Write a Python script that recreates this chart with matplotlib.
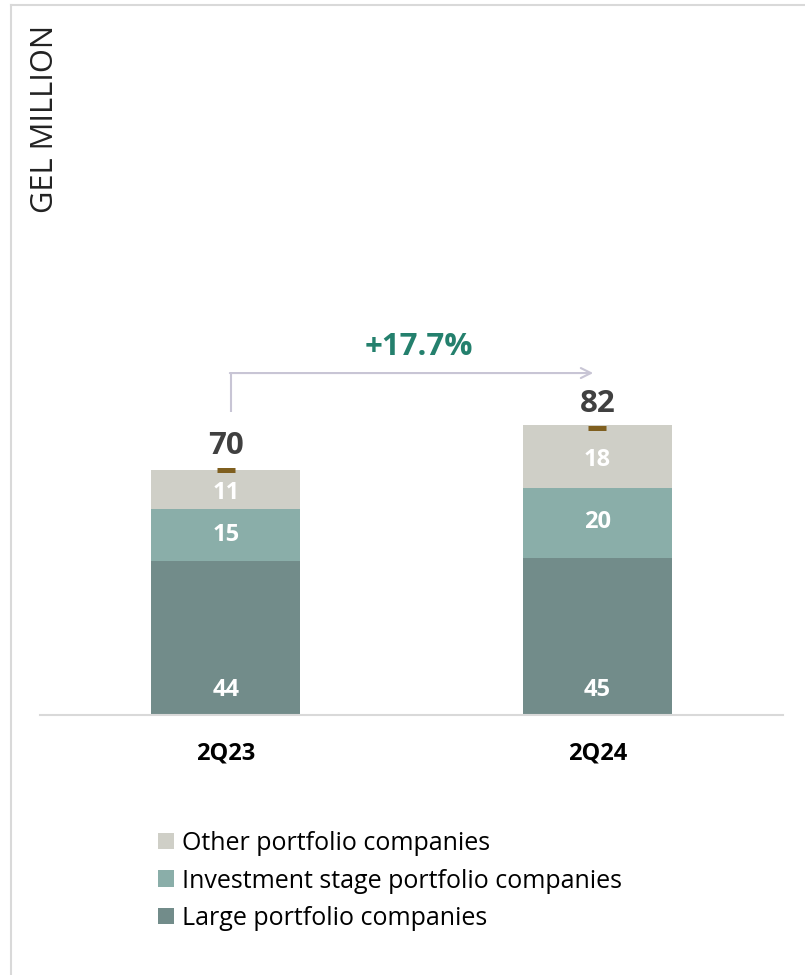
import matplotlib.pyplot as plt
from matplotlib.lines import Line2D

plt.rcParams['font.family'] = ['Open Sans', 'DejaVu Sans']

# NAV by portfolio group, GEL million
periods = ['2Q23', '2Q24']
large = [44, 45]
investment = [15, 20]
other = [11, 18]
totals = [70, 82]
growth = '+17.7%'

c_large = '#728c8a'
c_invest = '#8aaea9'
c_other = '#cfcfc7'
c_total = '#7f5f1f'
c_growth = '#24806d'
c_arrow = '#c8c5d5'
c_grid = '#d9d9d9'

W, H = 805, 975
fig = plt.figure(figsize=(W / 100, H / 100), dpi=100)
ax = fig.add_axes([40 / W, (H - 715) / H, 743 / W, 682.5 / H])

x = list(range(len(periods)))
width = 0.4
base_inv = large
base_oth = [a + b for a, b in zip(large, investment)]

b1 = ax.bar(x, large, width, color=c_large, label='Large portfolio companies')
b2 = ax.bar(x, investment, width, bottom=base_inv, color=c_invest,
            label='Investment stage portfolio companies')
b3 = ax.bar(x, other, width, bottom=base_oth, color=c_other,
            label='Other portfolio companies')

# segment labels
lbl = dict(color='white', fontsize=17, fontweight='bold', ha='center')
for i in x:
    ax.text(i, 7.1, str(large[i]), va='center', **lbl)
    ax.text(i, base_inv[i] + investment[i] / 2, str(investment[i]), va='center', **lbl)
    ax.text(i, base_oth[i] + other[i] / 2 - 1, str(other[i]), va='center', **lbl)

# totals: small dash marker plus bold number above
ax.plot(x, totals, ls='none', marker='_', ms=13, mew=3.6, color=c_total)
for i in x:
    ax.annotate(str(totals[i]), (i, totals[i]), xytext=(0, 17),
                textcoords='offset points', ha='center', va='center',
                fontsize=22.5, fontweight='bold', color='#404040')

# growth arrow between the two periods
y_start = totals[0] + 16.6
y_line = totals[1] + 15.7
x0, x1 = x[0] + 0.013, x[1] - 0.011
ax.plot([x0, x0], [y_start, y_line], color=c_arrow, lw=1.5, solid_capstyle='butt')
ax.annotate('', xy=(x1, y_line), xytext=(x0 - 0.002, y_line),
            arrowprops=dict(arrowstyle='->', color=c_arrow, lw=1.5,
                            mutation_scale=18, shrinkA=0, shrinkB=0))
ax.text((x0 + x1) / 2 + 0.02, y_line + 7.5, growth, ha='center', va='center',
        fontsize=22.5, fontweight='bold', color=c_growth)

ax.set_xlim(-0.5, 1.5)
ax.set_ylim(0, 195)
ax.set_yticks([])
ax.set_xticks(x, periods, fontsize=17, fontweight='bold', color='black')
ax.tick_params(axis='x', length=0, pad=19)
for s in ['top', 'left', 'right']:
    ax.spines[s].set_visible(False)
ax.spines['bottom'].set_color(c_grid)
ax.spines['bottom'].set_linewidth(1.5)

fig.text(45 / W, 1 - 119 / H, 'GEL MILLION', rotation=90, ha='center',
         va='center', fontsize=22.2, color='#222222')

ax.legend(handles=[b3, b2, b1], loc='upper left', frameon=False,
          bbox_to_anchor=(158 / W, 1 - 831 / H), bbox_transform=fig.transFigure,
          fontsize=18, handlelength=0.64, handleheight=0.64, handletextpad=0.3,
          labelspacing=0.5, borderpad=0, borderaxespad=0)

# light frame along the top and left edges
fig.add_artist(Line2D([11 / W, 1], [1 - 5 / H, 1 - 5 / H], color=c_grid, lw=1.5,
                      transform=fig.transFigure))
fig.add_artist(Line2D([11 / W, 11 / W], [0, 1 - 5 / H], color=c_grid, lw=1.5,
                      transform=fig.transFigure))

fig.savefig('out.png', dpi=100)
